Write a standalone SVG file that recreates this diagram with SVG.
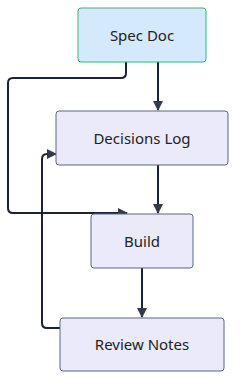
<svg xmlns="http://www.w3.org/2000/svg" width="245" height="388" viewBox="0 0 245 388">
<style>
.n rect{fill:#eaeafb;stroke:#5b6785;stroke-width:1}
.n.spec rect{fill:#d4e9fb;stroke:#3fb07a}
.n text{font-family:"Noto Sans","DejaVu Sans",sans-serif;font-size:15px;fill:#222;text-anchor:middle;dominant-baseline:central}
.e{fill:none;stroke:#1b2232;stroke-width:2}
</style>
<defs>
<marker id="ah" markerUnits="userSpaceOnUse" markerWidth="10" markerHeight="10" viewBox="0 0 10 10" refX="9" refY="5" orient="auto">
<path d="M0,0 L10,5 L0,10 Z" fill="#333a4b"/>
</marker>
</defs>
<rect width="245" height="388" fill="#fff"/>
<g id="connectors">
<path class="e" d="M158,62 L158,110" marker-end="url(#ah)"/>
<path class="e" d="M126,62 L126,73 Q126,78 121,78 L13,78 Q8,78 8,83 L8,208 Q8,213 13,213 L127,213" marker-end="url(#ah)"/>
<path class="e" d="M158,165 L158,213" marker-end="url(#ah)"/>
<path class="e" d="M142,268 L142,317" marker-end="url(#ah)"/>
<path class="e" d="M60,328 L47,328 Q42,328 42,323 L42,159 Q42,154 47,154 L56,154" marker-end="url(#ah)"/>
</g>
<g id="spec" class="n spec"><rect x="78" y="8" width="128" height="54" rx="3"/><text x="142" y="35">Spec Doc</text></g>
<g id="decisions" class="n"><rect x="56" y="111" width="172" height="54" rx="3"/><text x="142" y="138">Decisions Log</text></g>
<g id="build" class="n"><rect x="91" y="214" width="102" height="54" rx="3"/><text x="142" y="241">Build</text></g>
<g id="review" class="n"><rect x="60" y="318" width="164" height="53" rx="3"/><text x="142" y="344">Review Notes</text></g>
</svg>
